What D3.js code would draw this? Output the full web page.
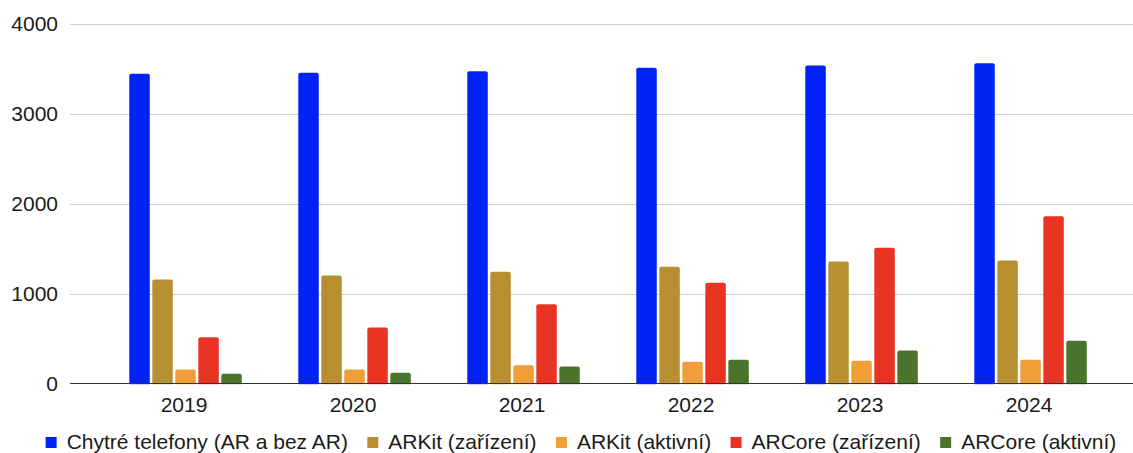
<!DOCTYPE html>
<html>
<head>
<meta charset="utf-8">
<script src="https://cdn.jsdelivr.net/npm/d3@7"></script>
<style>
  body { margin: 0; background: #fff; }
  text { font-family: "Liberation Sans", Arial, sans-serif; fill: #1a1a1a; }
</style>
</head>
<body>
<script>
// data
let years = ["2019", "2020", "2021", "2022", "2023", "2024"];
let seriesNames = ["Chytré telefony (AR a bez AR)", "ARKit (zařízení)", "ARKit (aktivní)", "ARCore (zařízení)", "ARCore (aktivní)"];
let colors = ["#0022f5", "#b78f31", "#f09e38", "#e93424", "#4a742b"];
let smartphones = [3441, 3452, 3470, 3507, 3533, 3559];
let arkitDevices = [1155, 1200, 1241, 1296, 1356, 1367];
let arkitActive = [155, 155, 204, 241, 252, 263];
let arcoreDevices = [515, 622, 881, 1119, 1507, 1859];
let arcoreActive = [108, 119, 189, 263, 367, 474];
let yTicks = [0, 1000, 2000, 3000, 4000];

let series = [smartphones, arkitDevices, arkitActive, arcoreDevices, arcoreActive];

let width = 1133, height = 453;
let svg = d3.select("body").append("svg")
    .attr("width", width)
    .attr("height", height);

let y = d3.scaleLinear().domain([0, 4000]).range([383.5, 23.5]);
let x0 = d3.scaleBand().domain(years).range([99.5, 1113.5]).paddingInner(0).paddingOuter(0);
let x1 = d3.scaleBand().domain(d3.range(series.length)).range([29.8, 29.8 + 5 * 22.5]).paddingInner(0.11);

// gridlines
svg.append("g").selectAll("line")
    .data(yTicks.filter(t => t > 0))
    .enter().append("line")
    .attr("x1", 70).attr("x2", width)
    .attr("y1", d => Math.round(y(d)) + 0.5).attr("y2", d => Math.round(y(d)) + 0.5)
    .style("stroke", "#d0d0d0");

// y labels
svg.append("g").selectAll("text")
    .data(yTicks)
    .enter().append("text")
    .attr("x", 58)
    .attr("y", d => y(d))
    .attr("dy", "0.35em")
    .style("text-anchor", "end")
    .style("font-size", "21px")
    .text(d => d);

// bars
let groups = svg.append("g").selectAll("g")
    .data(years)
    .enter().append("g")
    .attr("transform", d => "translate(" + x0(d) + ",0)");

groups.selectAll("rect")
    .data((d, i) => series.map((s, k) => ({ k: k, v: s[i] })))
    .enter().append("rect")
    .attr("x", d => x1(d.k))
    .attr("width", x1.bandwidth())
    .attr("y", d => y(d.v))
    .attr("height", d => y(0) - y(d.v) + 2)
    .attr("rx", 2)
    .style("fill", d => colors[d.k]);

// baseline
svg.append("line")
    .attr("x1", 70).attr("x2", width)
    .attr("y1", 383.5).attr("y2", 383.5)
    .style("stroke", "#333")
    .style("stroke-width", 1.2);

// white cover under baseline for rounded bottoms
svg.append("rect")
    .attr("x", 70).attr("y", 384.2)
    .attr("width", width - 70).attr("height", 4)
    .style("fill", "#fff");

// x labels
svg.append("g").selectAll("text")
    .data(years)
    .enter().append("text")
    .attr("x", d => x0(d) + x0.bandwidth() / 2)
    .attr("y", 411.5)
    .style("text-anchor", "middle")
    .style("font-size", "21px")
    .text(d => d);

// legend, laid out then centred
let legend = svg.append("g");
let lx = 0;
seriesNames.forEach((name, i) => {
    legend.append("rect")
        .attr("x", lx).attr("y", 437)
        .attr("width", 11).attr("height", 11)
        .style("fill", colors[i]);
    let t = legend.append("text")
        .attr("x", lx + 21)
        .attr("y", 448.7)
        .style("font-size", "21px")
        .text(name);
    lx += 21 + t.node().getComputedTextLength() + 19.4;
});
let legendWidth = lx - 19.4;
legend.attr("transform", "translate(" + (581 - legendWidth / 2) + ",0)");
</script>
</body>
</html>
